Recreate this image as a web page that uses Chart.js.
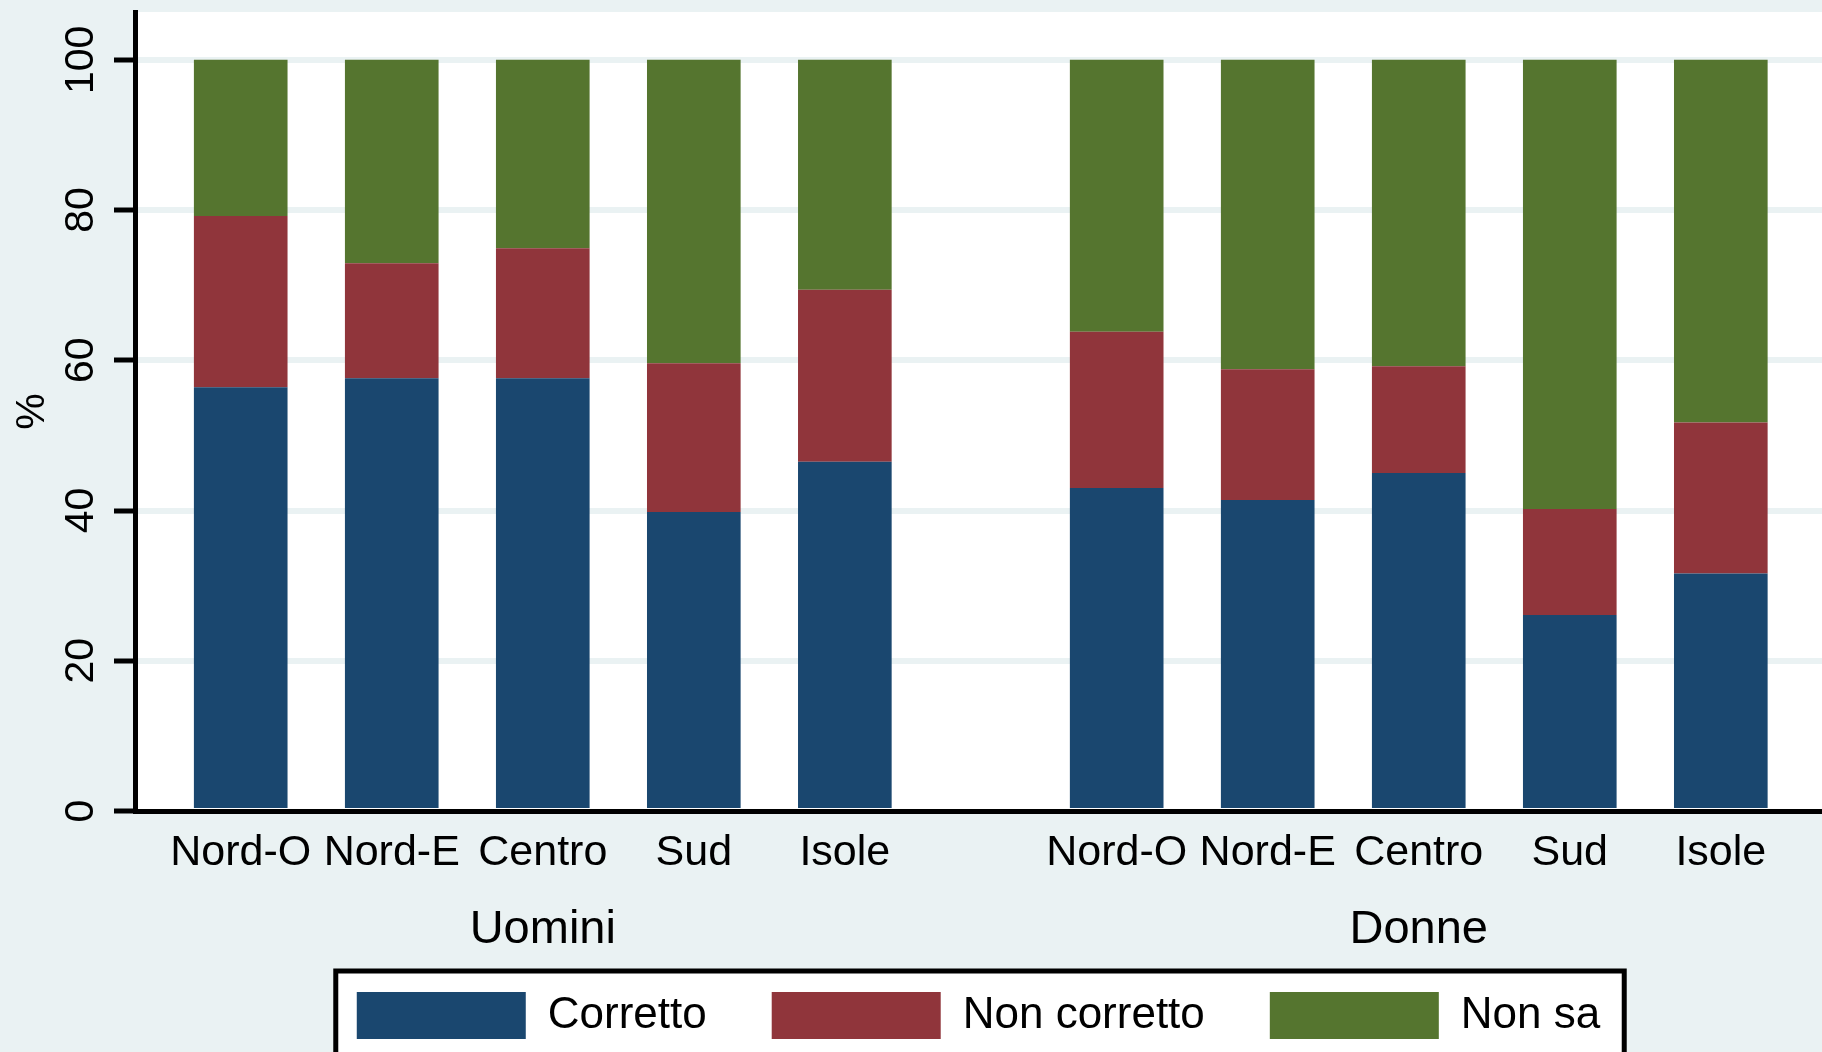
<!DOCTYPE html>
<html>

<head>
    <meta charset="UTF-8">
    <title>Corretto / Non corretto / Non sa</title>
    <script src="https://cdn.jsdelivr.net/npm/chart.js"></script>
    <style>
        html, body { margin: 0; padding: 0; overflow: hidden; background: #eaf2f3; }
        canvas { display: block; }
    </style>
</head>

<body>
    <canvas id="barChart" width="1822" height="1075"></canvas>

    <script>
        // values (percent, stacked to 100)
        const regions = ["Nord-O", "Nord-E", "Centro", "Sud", "Isole"];
        const groups = ["Uomini", "Donne"];
        const corretto = [56.4, 57.6, 57.6, 39.8, 46.5, 43.0, 41.4, 45.0, 26.1, 31.6];
        const nonCorretto = [22.8, 15.3, 17.3, 19.8, 22.9, 20.8, 17.4, 14.2, 14.1, 20.1];
        const nonSa = [20.8, 27.1, 25.1, 40.4, 30.6, 36.2, 41.2, 40.8, 59.8, 48.3];
        const yTicks = [0, 20, 40, 60, 80, 100];

        const BG = "#eaf2f3";
        const GROUP_GAP = 0.8;
        const FONT = "'Liberation Sans', Arial, sans-serif";

        // position of every bar on the x scale: regions side by side, groups split by a gap
        const xPos = corretto.map((_, i) => (i % regions.length) + Math.floor(i / regions.length) * (regions.length + GROUP_GAP));
        const groupCenters = groups.map((_, g) => {
            const first = xPos[g * regions.length];
            const last = xPos[g * regions.length + regions.length - 1];
            return (first + last) / 2;
        });

        const points = (arr) => arr.map((v, i) => ({ x: xPos[i], y: v }));

        Chart.defaults.font.family = FONT;
        Chart.defaults.color = "#000";

        const background = {
            id: "background",
            beforeDraw(chart) {
                const { ctx, chartArea: a } = chart;
                ctx.save();
                ctx.fillStyle = BG;
                ctx.fillRect(0, 0, chart.width, chart.height);
                ctx.fillStyle = "#fff";
                ctx.fillRect(a.left, a.top, a.right - a.left, a.bottom - a.top);

                // framed legend box like Stata
                const hb = chart.legend.legendHitBoxes;
                if (hb && hb.length) {
                    const l = Math.min(...hb.map(b => b.left)) - 21;
                    const r = Math.max(...hb.map(b => b.left + b.width)) + 24;
                    const t = hb[0].top - 21;
                    const b = hb[0].top + hb[0].height + 21;
                    ctx.fillStyle = "#fff";
                    ctx.fillRect(l, t, r - l, b - t);
                    ctx.lineWidth = 5;
                    ctx.strokeStyle = "#000";
                    ctx.strokeRect(l, t, r - l, b - t);
                }
                ctx.restore();
            }
        };

        const ctx = document.getElementById("barChart").getContext("2d");

        new Chart(ctx, {
            type: "bar",
            data: {
                datasets: [
                    { label: "Corretto", data: points(corretto), backgroundColor: "#1a476f" },
                    { label: "Non corretto", data: points(nonCorretto), backgroundColor: "#90353b" },
                    { label: "Non sa", data: points(nonSa), backgroundColor: "#55752f" }
                ]
            },
            options: {
                responsive: false,
                animation: false,
                events: [],
                layout: { padding: { top: 12, left: 0, right: 0, bottom: 26 } },
                datasets: {
                    bar: { categoryPercentage: 1, barPercentage: 0.62, borderWidth: 0 }
                },
                scales: {
                    x: {
                        type: "linear",
                        stacked: true,
                        min: -0.7,
                        max: 10.47,
                        offset: false,
                        afterBuildTicks: (scale) => { scale.ticks = xPos.map(v => ({ value: v })); },
                        afterFit: (scale) => { scale.height = 79; },
                        grid: { display: true, drawOnChartArea: false, drawTicks: false },
                        border: { display: true, color: "#000", width: 5 },
                        ticks: {
                            autoSkip: false,
                            maxRotation: 0,
                            padding: 16,
                            font: { size: 43 },
                            callback: (v, i) => regions[i % regions.length]
                        }
                    },
                    x2: {
                        type: "linear",
                        position: "bottom",
                        weight: 1,
                        min: -0.7,
                        max: 10.47,
                        offset: false,
                        afterBuildTicks: (scale) => { scale.ticks = groupCenters.map(v => ({ value: v })); },
                        afterFit: (scale) => {
                            scale.height = 37;
                            // the group names hang below this thin axis, so don't clip them to its box
                            scale._computeLabelArea = () => undefined;
                        },
                        grid: { display: false },
                        border: { display: false },
                        ticks: {
                            autoSkip: false,
                            maxRotation: 0,
                            padding: 4,
                            font: { size: 47 },
                            callback: (v, i) => groups[i]
                        }
                    },
                    y: {
                        stacked: true,
                        min: 0,
                        max: 106.36,
                        afterBuildTicks: (scale) => { scale.ticks = yTicks.map(v => ({ value: v })); },
                        afterFit: (scale) => {
                            scale.width = 135;
                            scale.paddingTop = 0;
                            scale.paddingBottom = 0;
                        },
                        grid: {
                            color: (c) => (c.tick && c.tick.value === 0 ? "rgba(0,0,0,0)" : BG),
                            lineWidth: 6,
                            tickColor: "#000",
                            tickWidth: 5,
                            tickLength: 21
                        },
                        border: { display: true, color: "#000", width: 5 },
                        ticks: {
                            minRotation: 90,
                            maxRotation: 90,
                            crossAlign: "center",
                            padding: -2,
                            font: { size: 41 }
                        },
                        title: {
                            display: true,
                            text: "%",
                            font: { size: 41 },
                            padding: { top: 8, bottom: 0 }
                        }
                    }
                },
                plugins: {
                    legend: {
                        position: "bottom",
                        fullSize: false,
                        labels: {
                            boxWidth: 169,
                            boxHeight: 47,
                            padding: 65,
                            font: { size: 44 },
                            color: "#000"
                        }
                    },
                    tooltip: { enabled: false }
                }
            },
            plugins: [background]
        });
    </script>
</body>

</html>
